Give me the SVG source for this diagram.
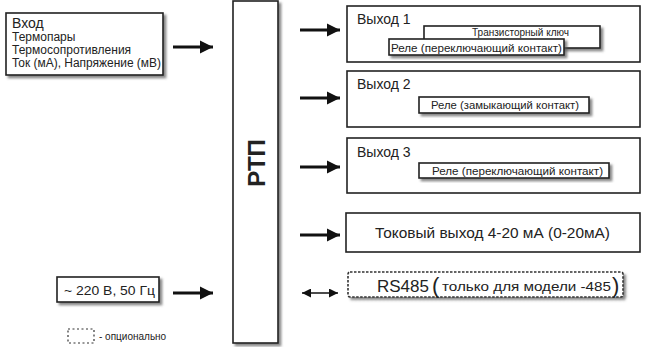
<svg xmlns="http://www.w3.org/2000/svg" width="645" height="347" viewBox="0 0 645 347">
<style>
.box{fill:#fff;stroke:#222;stroke-width:1.6}
.sh{filter:url(#ds)}
.dash{fill:#fff;stroke:#333;stroke-width:1.6;stroke-dasharray:2.5 1.5}
.t{font-family:"Liberation Sans",Arial,sans-serif;fill:#222}
.ln{stroke:#111;stroke-width:3;fill:none}
</style>
<defs>
<filter id="ds" x="-10%" y="-10%" width="130%" height="140%">
<feDropShadow dx="2.5" dy="2.5" stdDeviation="1.2" flood-color="#555" flood-opacity="0.7"/>
</filter>
<marker id="ah" viewBox="0 0 10 10" refX="10" refY="5" markerWidth="4.5" markerHeight="4.5" markerUnits="strokeWidth" orient="auto">
<path d="M0,0 L10,5 L0,10 z" fill="#111"/>
</marker>
<marker id="sa" viewBox="0 0 10 10" refX="10" refY="5" markerWidth="6" markerHeight="6" markerUnits="strokeWidth" orient="auto-start-reverse">
<path d="M0,0 L10,5 L0,10 z" fill="#111"/>
</marker>
</defs>

<g id="input">
<rect class="box sh" x="6" y="13" width="157" height="62"/>
<text class="t" x="12" y="28" font-size="14">Вход</text>
<text class="t" x="12" y="41" font-size="12">Термопары</text>
<text class="t" x="12" y="54" font-size="12">Термосопротивления</text>
<text class="t" x="12" y="67" font-size="12" textLength="149" lengthAdjust="spacingAndGlyphs">Ток (мА), Напряжение (мВ)</text>
</g>

<g id="rtp">
<rect class="box sh" x="233" y="1" width="45" height="342"/>
<text class="t" x="0" y="0" font-size="24" font-weight="bold" text-anchor="middle" transform="translate(265,163) rotate(-90)">РТП</text>
</g>

<g id="out1">
<rect class="box" x="347" y="6" width="293" height="56"/>
<text class="t" x="357" y="24" font-size="14">Выход 1</text>
<rect class="box sh" x="424" y="26" width="176" height="22"/>
<text class="t" x="472" y="36" font-size="10" textLength="97" lengthAdjust="spacingAndGlyphs">Транзисторный ключ</text>
<rect class="box sh" x="389" y="39" width="175" height="16"/>
<text class="t" x="391" y="51.5" font-size="11.5" textLength="171" lengthAdjust="spacingAndGlyphs">Реле (переключающий контакт)</text>
</g>

<g id="out2">
<rect class="box" x="347" y="71" width="293" height="56"/>
<text class="t" x="357" y="89" font-size="14">Выход 2</text>
<rect class="box sh" x="419" y="97" width="170" height="16"/>
<text class="t" x="431" y="109" font-size="11" textLength="148" lengthAdjust="spacingAndGlyphs">Реле (замыкающий контакт)</text>
</g>

<g id="out3">
<rect class="box" x="347" y="138" width="293" height="55"/>
<text class="t" x="357" y="157" font-size="14">Выход 3</text>
<rect class="box sh" x="419" y="163" width="190" height="15"/>
<text class="t" x="432" y="175" font-size="11" textLength="171" lengthAdjust="spacingAndGlyphs">Реле (переключающий контакт)</text>
</g>

<g id="current">
<rect class="box" x="346" y="213" width="294" height="39"/>
<text class="t" x="375" y="238" font-size="14" textLength="235" lengthAdjust="spacingAndGlyphs">Токовый выход 4-20 мА (0-20мА)</text>
</g>

<g id="rs485">
<rect class="dash sh" x="348" y="272" width="275" height="25" rx="2"/>
<text class="t" x="377" y="292" font-size="17">RS485</text>
<text class="t" x="432" y="293" font-size="22">(</text>
<text class="t" x="442" y="291" font-size="13" textLength="169" lengthAdjust="spacingAndGlyphs">только для модели -485</text>
<text class="t" x="612" y="293" font-size="22">)</text>
</g>

<g id="power">
<rect class="box sh" x="57" y="277" width="102" height="25"/>
<text class="t" x="64" y="295" font-size="13.5" textLength="91" lengthAdjust="spacingAndGlyphs">~ 220 В, 50 Гц</text>
</g>

<g id="legend">
<rect x="68" y="329" width="26" height="14" fill="none" stroke="#333" stroke-width="1.2" stroke-dasharray="2 2.5"/>
<text class="t" x="99" y="340" font-size="10">- опционально</text>
</g>

<g id="connectors">
<line class="ln" x1="173" y1="47" x2="213" y2="47" marker-end="url(#ah)"/>
<line class="ln" x1="173" y1="293" x2="213" y2="293" marker-end="url(#ah)"/>
<line class="ln" x1="300" y1="30" x2="340" y2="30" marker-end="url(#ah)"/>
<line class="ln" x1="300" y1="98" x2="340" y2="98" marker-end="url(#ah)"/>
<line class="ln" x1="300" y1="167" x2="340" y2="167" marker-end="url(#ah)"/>
<line class="ln" x1="300" y1="235" x2="340" y2="235" marker-end="url(#ah)"/>
<line x1="302" y1="293" x2="338" y2="293" stroke="#111" stroke-width="1.5" marker-start="url(#sa)" marker-end="url(#sa)"/>
</g>
</svg>
